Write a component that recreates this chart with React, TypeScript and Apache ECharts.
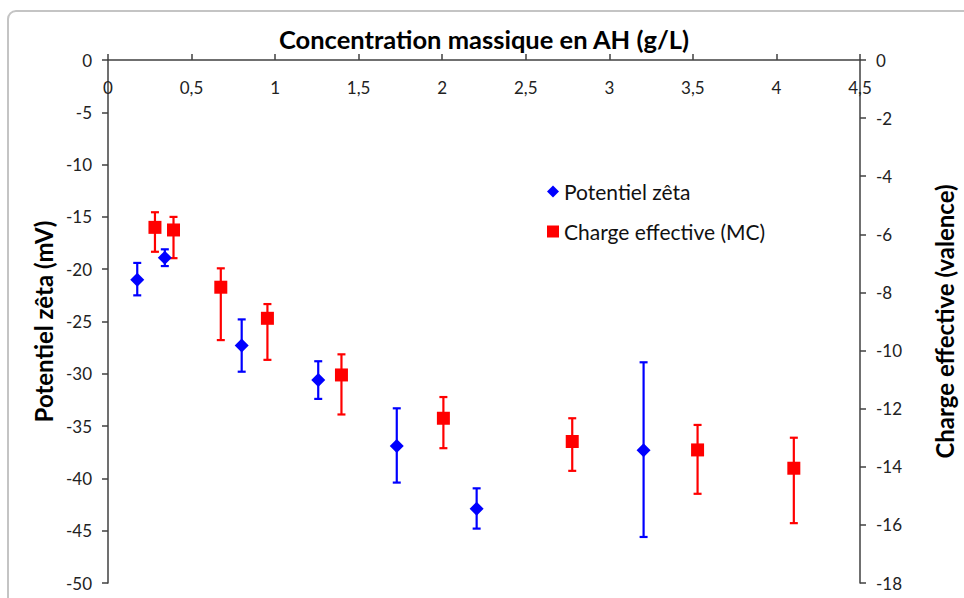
import React, { useEffect, useRef } from "react";
import * as echarts from "echarts";

// Potentiel zêta (mV), left axis
const zetaX = [0.175, 0.34, 0.8, 1.258, 1.728, 2.206, 3.205];
const zetaY = [-21.0, -18.9, -27.3, -30.6, -36.9, -42.9, -37.3];
const zetaHigh = [-19.4, -18.1, -24.8, -28.8, -33.3, -40.95, -28.9];
const zetaLow = [-22.5, -19.7, -29.8, -32.4, -40.4, -44.8, -45.6];

// Charge effective (valence), right axis
const chargeX = [0.281, 0.392, 0.675, 0.954, 1.397, 2.007, 2.778, 3.528, 4.104];
const chargeY = [-5.76, -5.85, -7.82, -8.89, -10.84, -12.33, -13.13, -13.42, -14.05];
const chargeHigh = [-5.24, -5.4, -7.17, -8.4, -10.13, -11.6, -12.33, -12.56, -13.0];
const chargeLow = [-6.6, -6.82, -9.64, -10.32, -12.2, -13.36, -14.14, -14.93, -15.94];

const xTickLabels = ["0", "0,5", "1", "1,5", "2", "2,5", "3", "3,5", "4", "4,5"];

const FONT = "Lato, 'Open Sans', sans-serif";
const BLUE = "#0000ff";
const RED = "#ff0000";

function errorBars(color: string, yAxisIndex: number, xs: number[], lows: number[], highs: number[]) {
  return {
    type: "custom",
    yAxisIndex,
    silent: true,
    z: 1,
    encode: { x: 0, y: [1, 2] },
    data: xs.map((x, i) => [x, lows[i], highs[i]]),
    renderItem: (params: any, api: any) => {
      const x = api.value(0);
      const pLo = api.coord([x, api.value(1)]);
      const pHi = api.coord([x, api.value(2)]);
      const cap = 4;
      const style = { stroke: color, lineWidth: 2.2 };
      return {
        type: "group",
        children: [
          { type: "line", shape: { x1: pHi[0], y1: pHi[1], x2: pLo[0], y2: pLo[1] }, style },
          { type: "line", shape: { x1: pHi[0] - cap, y1: pHi[1], x2: pHi[0] + cap, y2: pHi[1] }, style },
          { type: "line", shape: { x1: pLo[0] - cap, y1: pLo[1], x2: pLo[0] + cap, y2: pLo[1] }, style },
        ],
      };
    },
  };
}

export default function App() {
  const ref = useRef<HTMLDivElement>(null);
  useEffect(() => {
    document.body.style.margin = "0";
    document.body.style.overflow = "hidden";
    document.documentElement.style.overflow = "hidden";
    const chart = echarts.init(ref.current!, null, { renderer: "svg", width: 964, height: 598 });
    const axisLine = { show: true, lineStyle: { color: "#404040", width: 1.5 } };
    const axisTick = { show: true, length: 6, lineStyle: { color: "#404040", width: 1.5 } };
    const frameStyle = { stroke: "#c4c4c4", lineWidth: 2, fill: "none" };
    chart.setOption({
      animation: false,
      backgroundColor: "#ffffff",
      textStyle: { fontFamily: FONT },
      grid: { left: 108, right: 88, top: 60, bottom: 15, containLabel: false },
      graphic: [
        { type: "line", silent: true, shape: { x1: 8, y1: 598, x2: 8, y2: 19 }, style: frameStyle },
        { type: "line", silent: true, shape: { x1: 16, y1: 11, x2: 964, y2: 11 }, style: frameStyle },
        {
          type: "arc",
          silent: true,
          shape: { cx: 16, cy: 19, r: 8, startAngle: Math.PI, endAngle: Math.PI * 1.5, clockwise: true },
          style: frameStyle,
        },
      ],
      legend: {
        left: 542,
        top: 176,
        orient: "vertical",
        itemGap: 19,
        itemWidth: 12,
        itemHeight: 12,
        textStyle: { fontFamily: FONT, fontSize: 21, color: "#111" },
        data: [
          { name: "Potentiel zêta", icon: "diamond" },
          { name: "Charge effective (MC)", icon: "rect" },
        ],
        selectedMode: false,
      },
      xAxis: {
        type: "value",
        position: "top",
        min: 0,
        max: 4.5,
        interval: 0.5,
        name: "Concentration massique en AH (g/L)",
        nameLocation: "middle",
        nameGap: 8,
        nameTextStyle: { fontFamily: FONT, fontSize: 25.5, fontWeight: "bold", color: "#000" },
        axisLine,
        axisTick,
        splitLine: { show: false },
        axisLabel: {
          inside: true,
          margin: 19,
          fontSize: 17,
          color: "#222",
          fontFamily: FONT,
          showMinLabel: true,
          showMaxLabel: true,
          formatter: (v: number) => xTickLabels[Math.round(v / 0.5)] ?? "",
        },
      },
      yAxis: [
        {
          type: "value",
          position: "left",
          min: -50,
          max: 0,
          interval: 5,
          name: "Potentiel zêta (mV)",
          nameLocation: "middle",
          nameRotate: 90,
          nameGap: 50,
          nameTextStyle: { fontFamily: FONT, fontSize: 24, fontWeight: "bold", color: "#000" },
          axisLine,
          axisTick,
          splitLine: { show: false },
          axisLabel: { margin: 16, fontSize: 17, color: "#222", fontFamily: FONT },
        },
        {
          type: "value",
          position: "right",
          min: -18,
          max: 0,
          interval: 2,
          name: "Charge effective (valence)",
          nameLocation: "middle",
          nameRotate: 90,
          nameGap: 72,
          nameTextStyle: { fontFamily: FONT, fontSize: 24, fontWeight: "bold", color: "#000" },
          axisLine,
          axisTick,
          splitLine: { show: false },
          axisLabel: { margin: 16, fontSize: 17, color: "#222", fontFamily: FONT },
        },
      ],
      series: [
        errorBars(BLUE, 0, zetaX, zetaLow, zetaHigh),
        errorBars(RED, 1, chargeX, chargeLow, chargeHigh),
        {
          name: "Potentiel zêta",
          type: "scatter",
          yAxisIndex: 0,
          symbol: "diamond",
          symbolSize: [14, 14],
          z: 3,
          itemStyle: { color: BLUE, opacity: 1 },
          data: zetaX.map((x, i) => [x, zetaY[i]]),
        },
        {
          name: "Charge effective (MC)",
          type: "scatter",
          yAxisIndex: 1,
          symbol: "rect",
          symbolSize: 13,
          z: 3,
          itemStyle: { color: RED, opacity: 1 },
          data: chargeX.map((x, i) => [x, chargeY[i]]),
        },
      ],
    });
    return () => chart.dispose();
  }, []);
  return <div ref={ref} style={{ width: 964, height: 598, overflow: "hidden" }} />;
}
